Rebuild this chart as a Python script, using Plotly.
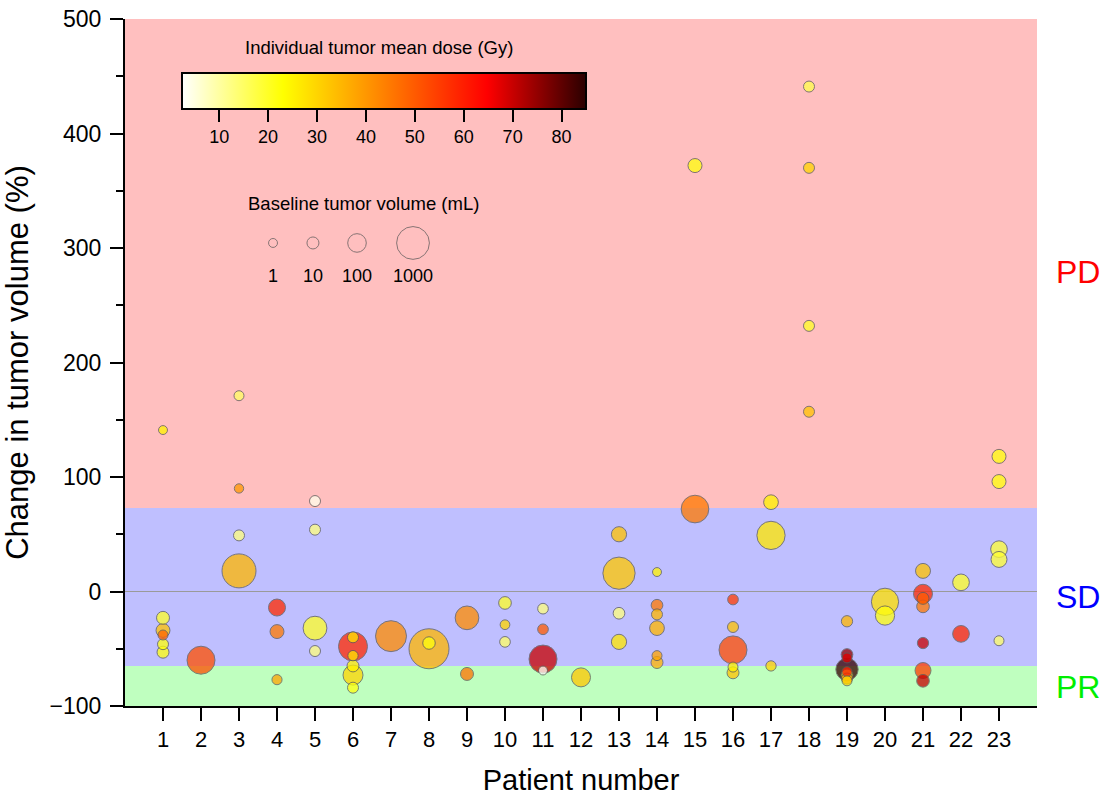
import numpy as np
import plotly.graph_objects as go

# ---------------- data ----------------
patient = [1, 1, 1, 1, 1, 1,
           2,
           3, 3, 3, 3,
           4, 4, 4,
           5, 5, 5, 5,
           6, 6, 6, 6, 6, 6,
           7,
           8, 8,
           9, 9,
           10, 10, 10,
           11, 11, 11, 11,
           12,
           13, 13, 13, 13,
           14, 14, 14, 14, 14, 14,
           15, 15,
           16, 16, 16, 16, 16,
           17, 17, 17,
           18, 18, 18, 18,
           19, 19, 19, 19, 19, 19, 19, 19,
           20, 20,
           21, 21, 21, 21, 21, 21, 21,
           22, 22,
           23, 23, 23, 23, 23]
change = [141, -23, -34, -38, -46, -53,
          -60,
          171, 90, 49, 18,
          -14, -35, -77,
          79, 54, -32, -52,
          -40, -48, -56, -65, -73, -84,
          -39,
          -50, -45,
          -23, -72,
          -10, -29, -44,
          -15, -33, -59, -69,
          -75,
          50, 16, -19, -44,
          17, -12, -20, -32, -56, -62,
          372, 72,
          -7, -31, -51, -66, -71,
          78, 49, -65,
          441, 370, 232, 157,
          -26, -55, -58, -68, -70, -73, -76, -78,
          -9, -21,
          18, -2, -6, -13, -45, -69, -78,
          8, -37,
          118, 96, 37, 28, -43]
dose = [25, 20, 33, 48, 22, 22,
        52,
        15, 40, 13, 35,
        58, 45, 38,
        4, 13, 20, 13,
        27, 58, 27, 25, 30, 22,
        42,
        35, 22,
        42, 46,
        20, 30, 15,
        13, 50, 70, 3,
        32,
        33, 32, 13, 27,
        25, 45, 35, 35, 38, 35,
        22, 45,
        55, 33, 52, 25, 33,
        25, 27, 30,
        17, 30, 20, 33,
        35, 75, 68, 84, 60, 20, 40, 30,
        28, 22,
        33, 58, 50, 45, 70, 55, 70,
        20, 58,
        22, 22, 19, 19, 15]
volume = [1.0, 16, 24, 2.7, 5.6, 9.9,
          549,
          2.7, 1.5, 5.6, 1142,
          66, 24, 3,
          5.6, 5.6, 290, 5.6,
          5.6, 629, 3.5, 9.9, 138, 5.6,
          810,
          2057, 13,
          283, 16,
          14, 2.1, 4.5,
          4.5, 4.5, 549, 1.0,
          110,
          38, 940, 8.5, 38,
          1.0, 8.5, 5.6, 32, 2.7, 9.9,
          25, 523,
          4.5, 5.6, 549, 2.7, 9.9,
          32, 570, 3.5,
          5.6, 5.6, 5.6, 5.6,
          6.7, 8.5, 2.7, 221, 2.7, 9.9, 5.6, 2.7,
          494, 117,
          35, 110, 9.9, 14, 6.7, 49, 14,
          60, 60,
          25, 25, 60, 49, 2.7]

x_ticks = list(range(1, 24))
dose_ticks = [10, 20, 30, 40, 50, 60, 70, 80]
legend_volumes = [1, 10, 100, 1000]
legend_labels = ["1", "10", "100", "1000"]

# response categories
band_names = ["PD", "SD", "PR"]
band_low = [73, -65, -100]
band_high = [500, 73, -65]
band_fill = ["#FFBFBF", "#BFBFFF", "#BFFFBF"]
band_text = ["#FF0000", "#0000FF", "#00EE00"]
band_label_y = [279, -5, -83]

FONT = "Liberation Sans, Arial, sans-serif"


def bubble_diameter(v):
    return 6.3 + 2.65 * np.cbrt(np.asarray(v, dtype=float))


# draw large bubbles first so that small ones stay visible on top
order = np.argsort(-np.asarray(volume), kind="stable")
px = np.asarray(patient)[order]
py = np.asarray(change)[order]
pd_ = np.asarray(dose)[order]
pv = np.asarray(volume)[order]

hot_scale = [[0.0, "#FFFFFF"], [0.25, "#FFFF00"], [0.755, "#FF0000"], [1.0, "#2A0000"]]

fig = go.Figure()

fig.add_trace(go.Scatter(
    x=px, y=py, mode="markers",
    marker=dict(
        size=bubble_diameter(pv), sizemode="diameter",
        color=pd_, colorscale=hot_scale, cmin=2.4, cmax=85,
        opacity=0.75,
        line=dict(color="#5a5a5a", width=1),
        colorbar=dict(
            orientation="h",
            x=0.284, xanchor="center",
            y=0.9214, yanchor="top",
            len=404, lenmode="pixels",
            thickness=36, thicknessmode="pixels",
            outlinewidth=2, outlinecolor="black",
            ticks="outside", ticklen=12, tickwidth=2, tickcolor="black",
            tickvals=dose_ticks,
            tickfont=dict(family=FONT, size=18, color="black"),
            xpad=0, ypad=0, borderwidth=0,
        ),
    ),
    showlegend=False,
    hovertemplate="Patient %{x}<br>%{y}%<extra></extra>",
))

# size legend, drawn on an overlay axis spanning [0, 1]
legend_x = [0.1623, 0.2061, 0.2544, 0.3158]
legend_y = 0.674
fig.add_trace(go.Scatter(
    x=legend_x, y=[legend_y] * len(legend_volumes), xaxis="x2", yaxis="y2",
    mode="markers",
    marker=dict(size=bubble_diameter(legend_volumes), sizemode="diameter",
                color="rgba(0,0,0,0)", line=dict(color="#555555", width=1)),
    showlegend=False, hoverinfo="skip",
))

shapes = []
annotations = []
for name, lo, hi, fill, tc, ly in zip(band_names, band_low, band_high,
                                      band_fill, band_text, band_label_y):
    shapes.append(dict(type="rect", xref="paper", yref="y", x0=0, x1=1,
                       y0=lo, y1=hi, fillcolor=fill, line=dict(width=0),
                       layer="below"))
    annotations.append(dict(text=name, xref="paper", yref="y", x=1.0455, y=ly,
                            showarrow=False, xanchor="center", yanchor="middle",
                            font=dict(family=FONT, size=32, color=tc)))

for lx, lab in zip(legend_x, legend_labels):
    annotations.append(dict(text=lab, xref="paper", yref="paper", x=lx, y=0.626,
                            showarrow=False, xanchor="center", yanchor="middle",
                            font=dict(family=FONT, size=18, color="black")))

annotations.append(dict(text="Individual tumor mean dose (Gy)", xref="paper",
                        yref="paper", x=0.2785, y=0.958, showarrow=False,
                        xanchor="center", yanchor="middle",
                        font=dict(family=FONT, size=18.5, color="black")))
annotations.append(dict(text="Baseline tumor volume (mL)", xref="paper",
                        yref="paper", x=0.261, y=0.732, showarrow=False,
                        xanchor="center", yanchor="middle",
                        font=dict(family=FONT, size=18.5, color="black")))

fig.update_layout(
    width=1113, height=802,
    margin=dict(l=125, r=76, t=19, b=96),
    paper_bgcolor="white", plot_bgcolor="white",
    font=dict(family=FONT, color="black"),
    shapes=shapes, annotations=annotations,
    xaxis=dict(
        range=[0, 24], tickmode="array", tickvals=x_ticks,
        ticks="outside", ticklen=13, tickwidth=2, tickcolor="black",
        showline=True, linewidth=2, linecolor="black",
        showgrid=False, zeroline=False, automargin=False,
        tickfont=dict(family=FONT, size=22, color="black"),
        title=dict(text="Patient number", standoff=18,
                   font=dict(family=FONT, size=29, color="black")),
    ),
    yaxis=dict(
        range=[-100, 500], tick0=0, dtick=100,
        ticks="outside", ticklen=13, tickwidth=2, tickcolor="black",
        minor=dict(dtick=50, ticks="outside", ticklen=7, tickwidth=2,
                   tickcolor="black", showgrid=False),
        showline=True, linewidth=2, linecolor="black",
        showgrid=False, automargin=False,
        ticklabeloverflow="allow",
        zeroline=True, zerolinecolor="#9a9a9a", zerolinewidth=1,
        tickfont=dict(family=FONT, size=23, color="black"),
        ticklabelstandoff=4,
        title=dict(text="Change in tumor volume (%)", standoff=17,
                   font=dict(family=FONT, size=31, color="black")),
    ),
    xaxis2=dict(overlaying="x", range=[0, 1], visible=False),
    yaxis2=dict(overlaying="y", range=[0, 1], visible=False),
)

# remove the default 8 px body margin so the figure fills the window exactly
fig.write_html("out.html",
               config={"displayModeBar": False},
               post_script="document.body.style.margin='0px';")
